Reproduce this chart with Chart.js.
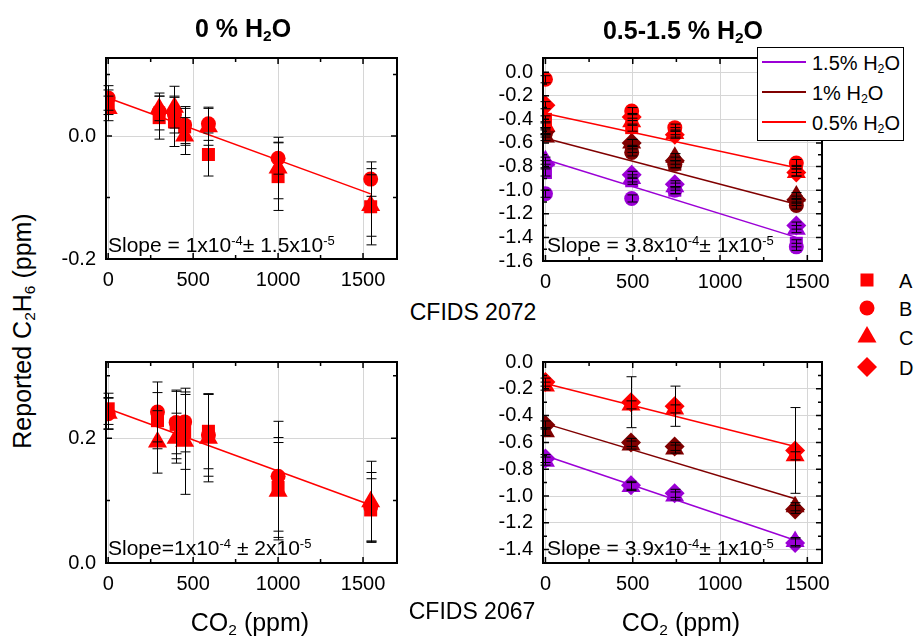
<!DOCTYPE html>
<html>
<head>
<meta charset="utf-8">
<script src="https://cdn.jsdelivr.net/npm/chart.js@4.4.1/dist/chart.umd.min.js"></script>
<style>
  body { margin: 0; background: #fff; width: 920px; height: 637px; position: relative; overflow: hidden;
         font-family: "Liberation Sans", Arial, sans-serif; color: #000; }
  canvas { position: absolute; }
  .t { position: absolute; white-space: nowrap; line-height: 1; }
  sub { font-size: 0.62em; vertical-align: -0.3em; line-height: 0; }
  sup { font-size: 0.62em; vertical-align: 0.55em; line-height: 0; }
  .title { font-weight: bold; font-size: 25px; transform: translate(-50%, -50%); }
  .slope { font-size: 21px; }
  .lgbox { position: absolute; left: 757px; top: 47px; width: 145px; height: 92px; background: #fff; border: 1px solid #000; }
  .lgline { position: absolute; left: 4px; width: 44px; height: 0; border-top: 2px solid; }
  .lgtxt { position: absolute; left: 54px; font-size: 20px; transform: translateY(-50%); white-space: nowrap; }
  .abc { font-size: 20px; transform: translateY(-50%); }
</style>
</head>
<body>
<canvas id="tl" width="371" height="262" style="left:46px;top:32px"></canvas>
<canvas id="tr" width="359" height="264" style="left:483px;top:32px"></canvas>
<canvas id="bl" width="371" height="262" style="left:46px;top:336px"></canvas>
<canvas id="br" width="359" height="262" style="left:483px;top:336px"></canvas>

<div class="t title" style="left:243px;top:28px">0 % H<sub>2</sub>O</div>
<div class="t title" style="left:683px;top:30px">0.5-1.5 % H<sub>2</sub>O</div>

<div class="t slope" style="left:108px;top:234px">Slope = 1x10<sup>-4</sup>&plusmn; 1.5x10<sup>-5</sup></div>
<div class="t slope" style="left:547px;top:234px">Slope = 3.8x10<sup>-4</sup>&plusmn; 1x10<sup>-5</sup></div>
<div class="t slope" style="left:108px;top:537px">Slope=1x10<sup>-4</sup> &plusmn; 2x10<sup>-5</sup></div>
<div class="t slope" style="left:547px;top:537px">Slope = 3.9x10<sup>-4</sup>&plusmn; 1x10<sup>-5</sup></div>

<div class="t" style="left:473px;top:312px;font-size:23px;transform:translate(-50%,-50%)">CFIDS 2072</div>
<div class="t" style="left:472px;top:611px;font-size:23px;transform:translate(-50%,-50%)">CFIDS 2067</div>
<div class="t" style="left:250px;top:622px;font-size:25px;transform:translate(-50%,-50%)">CO<sub>2</sub> (ppm)</div>
<div class="t" style="left:681px;top:622px;font-size:25px;transform:translate(-50%,-50%)">CO<sub>2</sub> (ppm)</div>
<div class="t" style="left:22px;top:331px;font-size:25px;transform:translate(-50%,-50%) rotate(-90deg)">Reported C<sub>2</sub>H<sub>6</sub> (ppm)</div>

<div class="lgbox">
  <div class="lgline" style="top:13px;border-color:#9b00d6"></div><div class="lgtxt" style="top:15px">1.5% H<sub>2</sub>O</div>
  <div class="lgline" style="top:43px;border-color:#800000"></div><div class="lgtxt" style="top:45px">1% H<sub>2</sub>O</div>
  <div class="lgline" style="top:73px;border-color:#ff0000"></div><div class="lgtxt" style="top:75px">0.5% H<sub>2</sub>O</div>
</div>

<svg style="position:absolute;left:855px;top:266px" width="26" height="116">
  <rect x="5.5" y="7.5" width="13" height="13" fill="#ff0000"/>
  <circle cx="12" cy="42" r="7.5" fill="#ff0000"/>
  <polygon points="12,60 21.5,76.5 2.5,76.5" fill="#ff0000"/>
  <polygon points="12,91 22,101 12,111 2,101" fill="#ff0000"/>
</svg>
<div class="t abc" style="left:899px;top:281px">A</div>
<div class="t abc" style="left:899px;top:309px">B</div>
<div class="t abc" style="left:899px;top:338px">C</div>
<div class="t abc" style="left:899px;top:368px">D</div>

<script>
// ---- CFIDS 2072, 0 % H2O (top left) ----
const tlX = [0, 300, 390, 450, 590, 1000, 1545];
const tlA = [0.055, 0.030, 0.023, 0.015, -0.030, -0.066, -0.115];
const tlAErr = [0.020, 0.035, 0.040, 0.030, 0.035, 0.055, 0.062];
const tlB = [0.062, 0.040, 0.035, 0.018, 0.020, -0.036, -0.070];
const tlBErr = [0.020, 0.030, 0.030, 0.030, 0.027, 0.026, 0.028];
const tlC = [0.045, 0.045, 0.047, 0.000, 0.015, -0.052, -0.113];
const tlCErr = [0.020, 0.020, 0.034, 0.030, 0.030, 0.050, 0.050];
const tlFitX = [0, 1545];
const tlFit = [0.062, -0.094];

// ---- CFIDS 2067, 0 % H2O (bottom left) ----
const blX = [0, 290, 400, 450, 590, 1000, 1545];
const blA = [0.247, 0.228, 0.222, 0.210, 0.211, 0.121, 0.085];
const blAErr = [0.025, 0.045, 0.055, 0.060, 0.060, 0.080, 0.050];
const blB = [0.239, 0.242, 0.225, 0.226, 0.205, 0.139, 0.090];
const blBErr = [0.025, 0.048, 0.050, 0.048, 0.066, 0.088, 0.055];
const blC = [0.240, 0.194, 0.200, 0.195, 0.200, 0.115, 0.098];
const blCErr = [0.025, 0.050, 0.040, 0.085, 0.070, 0.078, 0.065];
const blFitX = [0, 1545];
const blFit = [0.247, 0.093];

// ---- CFIDS 2072, 0.5-1.5 % H2O (top right) ----
const trX = [0, 494, 741, 1437];
const tr05A = [-0.40, -0.47, -0.50, -0.82];
const tr05B = [-0.06, -0.33, -0.47, -0.77];
const tr05C = [-0.45, -0.42, -0.52, -0.85];
const tr05D = [-0.28, -0.38, -0.53, -0.85];
const tr10A = [-0.50, -0.65, -0.78, -1.10];
const tr10B = [-0.52, -0.68, -0.78, -1.13];
const tr10C = [-0.55, -0.60, -0.72, -1.05];
const tr10D = [-0.50, -0.60, -0.75, -1.08];
const tr15A = [-0.85, -0.92, -1.00, -1.45];
const tr15B = [-1.03, -1.07, -1.00, -1.48];
const tr15C = [-0.75, -0.90, -0.97, -1.33];
const tr15D = [-0.78, -0.87, -0.95, -1.30];
const trErr = [0.03, 0.03, 0.03, 0.03];
const trFitX = [0, 1437];
const trFit05 = [-0.35, -0.81];
const trFit10 = [-0.56, -1.12];
const trFit15 = [-0.74, -1.40];

// ---- CFIDS 2067, 0.5-1.5 % H2O (bottom right) ----
const brX = [0, 490, 740, 1430];
const br05C = [-0.18, -0.32, -0.35, -0.70];
const br05D = [-0.15, -0.30, -0.33, -0.66];
const br05Err = [0.03, 0.19, 0.15, 0.32];
const br10C = [-0.52, -0.62, -0.65, -1.08];
const br10D = [-0.47, -0.60, -0.63, -1.10];
const br15C = [-0.74, -0.93, -1.00, -1.34];
const br15D = [-0.72, -0.92, -0.98, -1.35];
const brErr = [0.03, 0.03, 0.03, 0.03];
const brFitX = [0, 1430];
const brFit05 = [-0.16, -0.63];
const brFit10 = [-0.46, -1.02];
const brFit15 = [-0.70, -1.33];

// ticks
const xTicks = [0, 500, 1000, 1500];
const xMinor = [250, 750, 1250];
const tlYTicks = [-0.2, 0.0];
const tlYMinor = [-0.1, 0.1];
const blYTicks = [0.0, 0.2];
const blYMinor = [0.1, 0.3];
const trYTicks = [0.0, -0.2, -0.4, -0.6, -0.8, -1.0, -1.2, -1.4, -1.6];
const brYTicks = [0.0, -0.2, -0.4, -0.6, -0.8, -1.0, -1.2, -1.4];
const rYMinor = [-0.1, -0.3, -0.5, -0.7, -0.9, -1.1, -1.3, -1.5];

const RED = '#ff0000', DARK = '#800000', PURPLE = '#9b00d6';
const FONT = 'Liberation Sans, Arial, sans-serif';
const shape = {
  A: { pointStyle: 'rect', radius: 9.2 },
  B: { pointStyle: 'circle', radius: 7.5 },
  C: { pointStyle: 'triangle', radius: 11 },
  D: { pointStyle: 'rectRot', radius: 10 }
};

function pts(xs, ys) {
  return ys.map((y, i) => ({ x: xs[i], y: y }));
}

function marks(xs, ys, errs, kind, color) {
  return {
    type: 'scatter',
    data: pts(xs, ys),
    errors: errs,
    pointStyle: shape[kind].pointStyle,
    pointRadius: shape[kind].radius,
    backgroundColor: color,
    borderColor: color,
    borderWidth: 0,
    order: 2
  };
}

function fit(xs, ys, color) {
  return {
    type: 'line',
    data: pts(xs, ys),
    borderColor: color,
    borderWidth: 1.5,
    pointRadius: 0,
    fill: false,
    order: 1
  };
}

// black error bars, drawn over the markers
const errorBars = {
  id: 'errorBars',
  afterDatasetsDraw(chart) {
    const ctx = chart.ctx, ys = chart.scales.y;
    ctx.save();
    ctx.strokeStyle = '#000';
    ctx.lineWidth = 1;
    chart.data.datasets.forEach((ds, i) => {
      if (!ds.errors) return;
      chart.getDatasetMeta(i).data.forEach((p, j) => {
        const v = ds.data[j].y, e = ds.errors[j];
        const x = Math.round(p.x) + 0.5;
        const y1 = ys.getPixelForValue(v + e), y2 = ys.getPixelForValue(v - e);
        ctx.beginPath();
        ctx.moveTo(x, y1); ctx.lineTo(x, y2);
        ctx.moveTo(x - 5, y1); ctx.lineTo(x + 5, y1);
        ctx.moveTo(x - 5, y2); ctx.lineTo(x + 5, y2);
        ctx.stroke();
      });
    });
    ctx.restore();
  }
};

// closed frame with inward ticks on all four sides
const frame = {
  id: 'frame',
  afterDraw(chart, args, o) {
    const ctx = chart.ctx, a = chart.chartArea, xs = chart.scales.x, ys = chart.scales.y;
    ctx.save();
    ctx.strokeStyle = '#000';
    ctx.lineWidth = 1.5;
    ctx.beginPath();
    const xt = (v, len) => {
      const px = xs.getPixelForValue(v);
      ctx.moveTo(px, a.bottom); ctx.lineTo(px, a.bottom - len);
      ctx.moveTo(px, a.top); ctx.lineTo(px, a.top + len);
    };
    const yt = (v, len) => {
      const py = ys.getPixelForValue(v);
      ctx.moveTo(a.left, py); ctx.lineTo(a.left + len, py);
      ctx.moveTo(a.right, py); ctx.lineTo(a.right - len, py);
    };
    o.xMajor.forEach(v => xt(v, 6));
    o.xMinor.forEach(v => xt(v, 4));
    o.yMajor.forEach(v => yt(v, 6));
    o.yMinor.forEach(v => yt(v, 4));
    ctx.stroke();
    ctx.lineWidth = 2;
    ctx.strokeRect(a.left, a.top, a.right - a.left, a.bottom - a.top);
    ctx.restore();
  }
};

function panel(id, xMin, xMax, yMin, yMax, yTicks, yMinor, datasets) {
  return new Chart(document.getElementById(id), {
    data: { datasets: datasets },
    plugins: [errorBars, frame],
    options: {
      responsive: false,
      animation: false,
      layout: { padding: { left: 0, top: 26, right: 20, bottom: 0 } },
      plugins: {
        legend: { display: false },
        tooltip: { enabled: false },
        frame: { xMajor: xTicks, xMinor: xMinor, yMajor: yTicks, yMinor: yMinor }
      },
      scales: {
        x: {
          type: 'linear', min: xMin, max: xMax,
          afterBuildTicks: s => { s.ticks = xTicks.map(v => ({ value: v })); },
          afterFit: s => { s.height = 35; },
          border: { display: false },
          grid: { color: '#d6d6d6', drawTicks: false },
          ticks: { color: '#000', font: { family: FONT, size: 20 }, padding: 9, maxRotation: 0, autoSkip: false,
                   callback: v => String(v) }
        },
        y: {
          type: 'linear', min: yMin, max: yMax,
          afterBuildTicks: s => { s.ticks = yTicks.map(v => ({ value: v })); },
          afterFit: s => { s.width = 60; },
          border: { display: false },
          grid: { color: '#d6d6d6', drawTicks: false },
          ticks: { color: '#000', font: { family: FONT, size: 20 }, padding: 10, autoSkip: false,
                   callback: v => v.toFixed(1) }
        }
      }
    }
  });
}

panel('tl', -13, 1700, -0.2, 0.127, tlYTicks, tlYMinor, [
  fit(tlFitX, tlFit, RED),
  marks(tlX, tlC, tlCErr, 'C', RED),
  marks(tlX, tlB, tlBErr, 'B', RED),
  marks(tlX, tlA, tlAErr, 'A', RED)
]);

panel('bl', -13, 1700, 0.0, 0.322, blYTicks, blYMinor, [
  fit(blFitX, blFit, RED),
  marks(blX, blC, blCErr, 'C', RED),
  marks(blX, blB, blBErr, 'B', RED),
  marks(blX, blA, blAErr, 'A', RED)
]);

panel('tr', -14, 1584, -1.6, 0.12, trYTicks, rYMinor, [
  fit(trFitX, trFit05, RED),
  fit(trFitX, trFit10, DARK),
  fit(trFitX, trFit15, PURPLE),
  marks(trX, tr05A, trErr, 'A', RED),
  marks(trX, tr05B, trErr, 'B', RED),
  marks(trX, tr05C, trErr, 'C', RED),
  marks(trX, tr05D, trErr, 'D', RED),
  marks(trX, tr10A, trErr, 'A', DARK),
  marks(trX, tr10B, trErr, 'B', DARK),
  marks(trX, tr10C, trErr, 'C', DARK),
  marks(trX, tr10D, trErr, 'D', DARK),
  marks(trX, tr15A, trErr, 'A', PURPLE),
  marks(trX, tr15B, trErr, 'B', PURPLE),
  marks(trX, tr15C, trErr, 'C', PURPLE),
  marks(trX, tr15D, trErr, 'D', PURPLE)
]);

panel('br', -14, 1584, -1.5, 0.0, brYTicks, rYMinor, [
  fit(brFitX, brFit05, RED),
  fit(brFitX, brFit10, DARK),
  fit(brFitX, brFit15, PURPLE),
  marks(brX, br05D, br05Err, 'D', RED),
  marks(brX, br05C, brErr, 'C', RED),
  marks(brX, br10D, brErr, 'D', DARK),
  marks(brX, br10C, brErr, 'C', DARK),
  marks(brX, br15D, brErr, 'D', PURPLE),
  marks(brX, br15C, brErr, 'C', PURPLE)
]);
</script>
</body>
</html>
